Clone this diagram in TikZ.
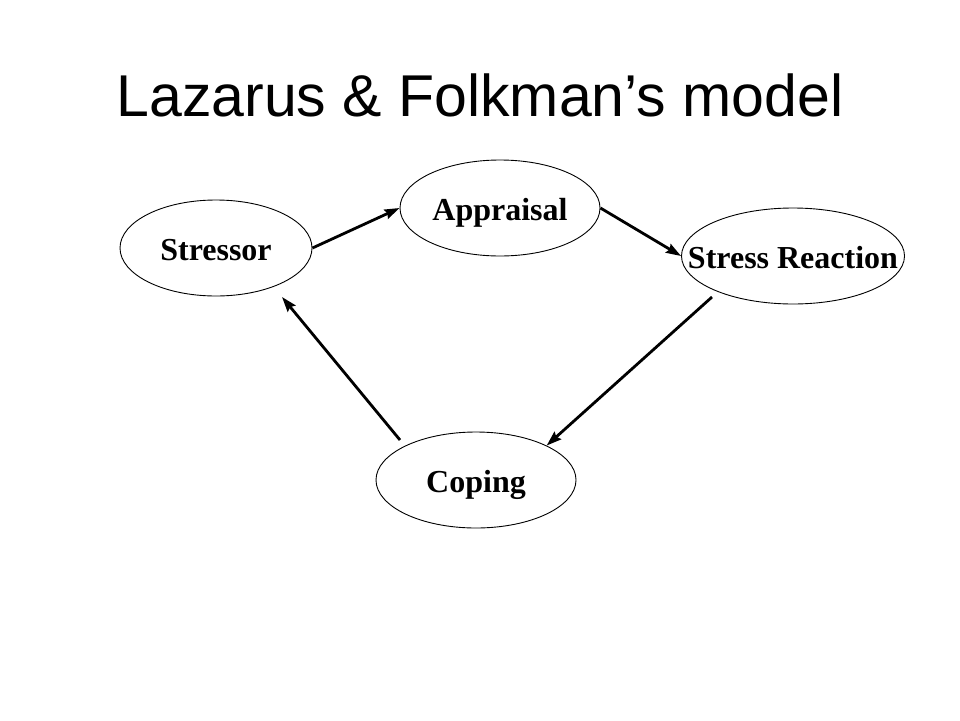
\documentclass[tikz,border=0pt]{standalone}
\usepackage{fontspec}
\setmainfont{Liberation Serif}
\newfontfamily\titlefont{Liberation Sans}
\usetikzlibrary{arrows.meta,shapes.geometric}

\begin{document}
\begin{tikzpicture}[
            x=1pt, y=-1pt,
            % Stili
            bubble/.style={ellipse, draw=black, line width=0.9pt, inner sep=0pt, minimum width=200pt, minimum height=96pt, font=\fontsize{32}{36}\selectfont\bfseries, text height=25pt, text depth=0pt},
            arrow/.style={line width=2.8pt, -{Stealth[length=15pt, width=10pt, inset=2pt]}}
        ]
        \useasboundingbox (0,0) rectangle (960,720);

        % Titolo
        \node (title) [anchor=base, font=\titlefont\fontsize{59}{65}\selectfont] at (480,116) {Lazarus \& Folkman’s model};

        % Nodi
        \node (stressor) [bubble, minimum width=192pt] at (216,248) {\makebox[0pt]{Stressor}};
        \node (appraisal) [bubble] at (500,208) {\makebox[0pt]{Appraisal}};
        \node (reaction) [bubble, minimum width=223pt] at (793,256) {\makebox[0pt]{Stress Reaction}};
        \node (coping) [bubble] at (476,480) {\makebox[0pt]{Coping}};

        % Estremi liberi
        \coordinate (reaction_out) at (712,297);
        \coordinate (coping_out) at (400,440);
        \coordinate (stressor_in) at (282,297);

        % Collegamenti
        \draw [arrow] (stressor.east) -- (appraisal.west);
        \draw [arrow] (appraisal.east) -- (reaction.west);
        \draw [arrow] (reaction_out) -- (coping.26);
        \draw [arrow] (coping_out) -- (stressor_in);

    \end{tikzpicture}
\end{document}
